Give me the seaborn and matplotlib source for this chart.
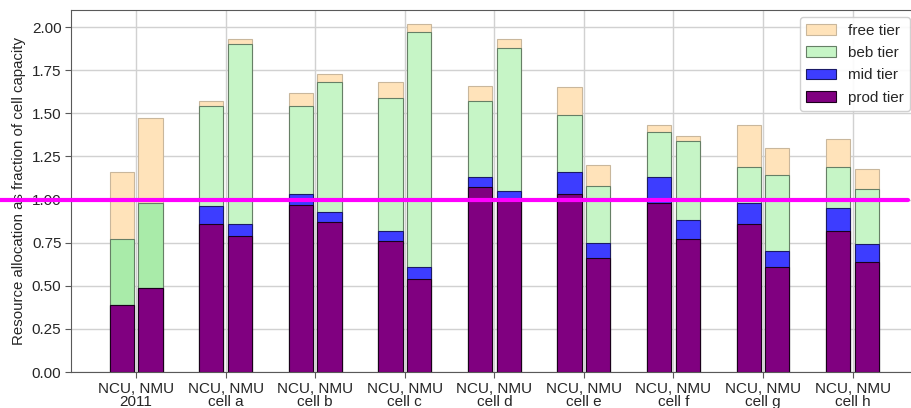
import matplotlib
matplotlib.use("Agg")
import matplotlib.pyplot as plt
import matplotlib.transforms as mtransforms
from matplotlib.patches import Patch
import numpy as np
import pandas as pd
import seaborn as sns

# Categories and tick labels
cells = ["2011", "cell a", "cell b", "cell c", "cell d", "cell e", "cell f", "cell g", "cell h"]
tick_labels = ["NCU, NMU\n" + c for c in cells]
units = ["NCU", "NMU"]
tiers = ["prod tier", "mid tier", "beb tier", "free tier"]

# Allocation per tier (fraction of cell capacity), one value per cell
ncu_prod = [0.39, 0.86, 0.97, 0.76, 1.07, 1.03, 0.98, 0.86, 0.82]
ncu_mid = [0.00, 0.10, 0.06, 0.06, 0.06, 0.13, 0.15, 0.12, 0.13]
ncu_beb = [0.38, 0.58, 0.51, 0.77, 0.44, 0.33, 0.26, 0.21, 0.24]
ncu_free = [0.39, 0.03, 0.08, 0.09, 0.09, 0.16, 0.04, 0.24, 0.16]

nmu_prod = [0.49, 0.79, 0.87, 0.54, 0.99, 0.66, 0.77, 0.61, 0.64]
nmu_mid = [0.00, 0.07, 0.06, 0.07, 0.06, 0.09, 0.11, 0.09, 0.10]
nmu_beb = [0.49, 1.04, 0.75, 1.36, 0.83, 0.33, 0.46, 0.44, 0.32]
nmu_free = [0.49, 0.03, 0.05, 0.05, 0.05, 0.12, 0.03, 0.16, 0.12]

capacity = 1.0

face = {"free tier": "#FFE3BA", "beb tier": "#C6F5C6", "mid tier": "#3D3DFF", "prod tier": "#800080"}
edge = {"free tier": "#C9B79C", "beb tier": "#667F66", "mid tier": "#1A1A66", "prod tier": "#1A001A"}
beb_2011 = "#A9EBA9"

rows = []
series = {
    "NCU": {"prod tier": ncu_prod, "mid tier": ncu_mid, "beb tier": ncu_beb, "free tier": ncu_free},
    "NMU": {"prod tier": nmu_prod, "mid tier": nmu_mid, "beb tier": nmu_beb, "free tier": nmu_free},
}
for u in units:
    cum = np.zeros(len(cells))
    for t in tiers:
        cum = cum + np.array(series[u][t])
        for c, v in zip(cells, cum):
            rows.append({"cell": c, "unit": u, "tier": t, "top": v})
df = pd.DataFrame(rows)

sns.set_style("whitegrid", {
    "axes.edgecolor": "0.35",
    "grid.color": "0.82",
    "xtick.bottom": True,
    "ytick.left": True,
})
plt.rcParams["font.family"] = ["Liberation Sans", "DejaVu Sans"]

fig, ax = plt.subplots(figsize=(9.12, 4.08), dpi=100)
fig.subplots_adjust(left=0.078, right=1.0066, top=0.976, bottom=0.088)

# Stacked bars: draw cumulative tops from the highest tier down
for t in reversed(tiers):
    n_before = len(ax.patches)
    sns.barplot(
        data=df[df["tier"] == t], x="cell", y="top", hue="unit",
        order=cells, hue_order=units, palette=[face[t], face[t]],
        width=0.64, gap=0.156, dodge=True, legend=False, errorbar=None,
        edgecolor=edge[t], linewidth=0.8, saturation=1, ax=ax,
    )
    if t == "beb tier":
        for p in ax.patches[n_before:]:
            if p.get_x() + p.get_width() / 2 < 0.5:
                p.set_facecolor(beb_2011)

ax.set_xlim(-0.725, 8.73)
ax.set_ylim(0, 2.1)
ax.set_yticks(np.arange(0, 2.01, 0.25))
ax.set_yticklabels([f"{v:.2f}" for v in np.arange(0, 2.01, 0.25)], fontsize=11)
ax.set_xticks(range(len(cells)))
ax.set_xticklabels(tick_labels, fontsize=11, linespacing=0.95)
ax.tick_params(axis="both", length=4, color="0.35", pad=3)
ax.set_xlabel("")
ax.set_ylabel("Resource allocation as fraction of cell capacity", fontsize=10.8)
ax.grid(True, axis="both", color="0.82", linewidth=1)
ax.set_axisbelow(True)

# Capacity reference line, running out past the left edge of the axes
trans = mtransforms.blended_transform_factory(fig.transFigure, ax.transData)
ax.plot([0, 908 / 912], [capacity, capacity], color="#FF00FF", linewidth=3,
        transform=trans, clip_on=False, zorder=10)

handles = [Patch(facecolor=face[t], edgecolor=edge[t], linewidth=0.8) for t in reversed(tiers)]
ax.legend(handles, list(reversed(tiers)), loc="upper right", fontsize=11,
          frameon=True, framealpha=0.9, borderaxespad=0.5, labelspacing=0.55)

fig.savefig("out.png", dpi=100)
